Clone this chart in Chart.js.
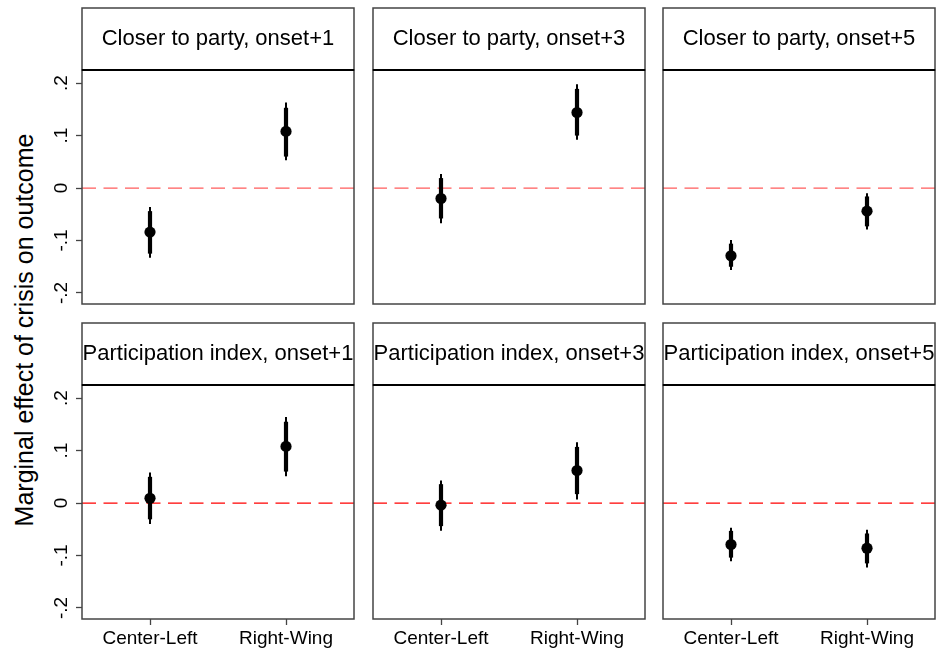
<!DOCTYPE html>
<html>
<head>
<meta charset="utf-8">
<script src="https://cdn.jsdelivr.net/npm/chart.js@4/dist/chart.umd.min.js"></script>
<style>
  html, body { margin: 0; padding: 0; background: #fff; }
  body { width: 936px; height: 654px; position: relative; overflow: hidden; font-family: "Liberation Sans", Arial, sans-serif; }
  canvas { position: absolute; }
  #ytitle {
    position: absolute; left: 24px; top: 330px;
    transform: translate(-50%, -50%) rotate(-90deg);
    white-space: nowrap; font-size: 25px; color: #000;
  }
</style>
</head>
<body>
<div id="ytitle">Marginal effect of crisis on outcome</div>
<script>
// Panel headers, left to right, top row first
const panelTitles = [
  'Closer to party, onset+1', 'Closer to party, onset+3', 'Closer to party, onset+5',
  'Participation index, onset+1', 'Participation index, onset+3', 'Participation index, onset+5'
];
const categories = ['Center-Left', 'Right-Wing'];
const categoryX = [1, 2];

// Point estimates per panel: [Center-Left, Right-Wing]
const estimates = [
  [-0.084, 0.108], [-0.020, 0.144], [-0.129, -0.044],
  [0.009, 0.108], [-0.004, 0.062], [-0.079, -0.086]
];
// Inner (thick) intervals per panel: [[lo, hi] Center-Left, [lo, hi] Right-Wing]
const innerCI = [
  [[-0.125, -0.044], [0.060, 0.153]],
  [[-0.058, 0.019], [0.100, 0.189]],
  [[-0.150, -0.106], [-0.073, -0.016]],
  [[-0.031, 0.050], [0.060, 0.155]],
  [[-0.044, 0.036], [0.017, 0.107]],
  [[-0.104, -0.053], [-0.115, -0.058]]
];
// Outer (thin) intervals per panel
const outerCI = [
  [[-0.133, -0.036], [0.053, 0.163]],
  [[-0.067, 0.027], [0.092, 0.198]],
  [[-0.156, -0.099], [-0.079, -0.010]],
  [[-0.040, 0.058], [0.051, 0.164]],
  [[-0.053, 0.043], [0.007, 0.116]],
  [[-0.111, -0.047], [-0.123, -0.051]]
];
const yTicks = [-0.2, -0.1, 0, 0.1, 0.2];
const yTickLabels = ['-.2', '-.1', '0', '.1', '.2'];
const refValue = 0;

const FONT = '"Liberation Sans", Arial, sans-serif';

// Panel frame + header box
const framePlugin = {
  id: 'frame',
  afterDraw(chart) {
    const { ctx, chartArea: a } = chart;
    const tb = chart.titleBlock;
    ctx.save();
    ctx.strokeStyle = '#444';
    ctx.lineWidth = 1.5;
    ctx.strokeRect(a.left, a.top, a.right - a.left, a.bottom - a.top);
    ctx.strokeRect(a.left, tb.top, a.right - a.left, a.top - tb.top);
    ctx.strokeStyle = '#000';
    ctx.lineWidth = 2;
    ctx.beginPath();
    ctx.moveTo(a.left, a.top);
    ctx.lineTo(a.right, a.top);
    ctx.stroke();
    ctx.restore();
  }
};

// Dashed reference line at zero
const refLinePlugin = {
  id: 'refLine',
  beforeDatasetsDraw(chart, args, opts) {
    const { ctx, chartArea: a, scales } = chart;
    const y = scales.y.getPixelForValue(refValue);
    ctx.save();
    ctx.strokeStyle = opts.color;
    ctx.lineWidth = 1.3;
    ctx.setLineDash([14, 7.5]);
    ctx.beginPath();
    ctx.moveTo(a.left, y);
    ctx.lineTo(a.right, y);
    ctx.stroke();
    ctx.restore();
  }
};

// Vertical (rotated) y tick labels
const yLabelPlugin = {
  id: 'yLabels',
  afterDraw(chart) {
    const sc = chart.scales.y;
    if (!sc.options.display) return;
    const { ctx, chartArea: a } = chart;
    ctx.save();
    ctx.font = '19px ' + FONT;
    ctx.fillStyle = '#000';
    ctx.textAlign = 'center';
    ctx.textBaseline = 'middle';
    yTicks.forEach((v, i) => {
      const py = sc.getPixelForValue(v);
      ctx.save();
      ctx.translate(a.left - 20, py);
      ctx.rotate(-Math.PI / 2);
      ctx.fillText(yTickLabels[i], 0, 0);
      ctx.restore();
    });
    ctx.restore();
  }
};

const colLeft = [40, 372, 662];
const colWidth = [315, 274, 274];
const rowTop = [7, 322];
const rowHeight = [298, 332];

panelTitles.forEach((title, p) => {
  const row = Math.floor(p / 3), col = p % 3;
  const showX = row === 1, showY = col === 0;
  const cv = document.createElement('canvas');
  cv.width = colWidth[col];
  cv.height = rowHeight[row];
  cv.style.left = colLeft[col] + 'px';
  cv.style.top = rowTop[row] + 'px';
  document.body.appendChild(cv);

  const datasets = [];
  categoryX.forEach((x, c) => {
    datasets.push({
      data: [{ x, y: outerCI[p][c][0] }, { x, y: outerCI[p][c][1] }],
      borderColor: '#000', borderWidth: 2, pointRadius: 0, borderCapStyle: 'butt'
    });
    datasets.push({
      data: [{ x, y: innerCI[p][c][0] }, { x, y: innerCI[p][c][1] }],
      borderColor: '#000', borderWidth: 4.2, pointRadius: 0, borderCapStyle: 'butt'
    });
  });
  datasets.push({
    data: categoryX.map((x, c) => ({ x, y: estimates[p][c] })),
    showLine: false, pointRadius: 5.6, pointBackgroundColor: '#000',
    pointBorderWidth: 0, borderColor: '#000'
  });

  new Chart(cv, {
    type: 'line',
    data: { datasets },
    plugins: [refLinePlugin, framePlugin, yLabelPlugin],
    options: {
      responsive: false,
      animation: false,
      events: [],
      layout: {
        autoPadding: false,
        padding: { top: 1, right: 1, left: showY ? 0 : 1, bottom: showX ? 0 : 1 }
      },
      plugins: {
        legend: { display: false },
        tooltip: { enabled: false },
        title: {
          display: true, text: title, fullSize: false, color: '#000',
          font: { family: FONT, size: 22, weight: 'normal' },
          padding: { top: 18, bottom: 17.6 }
        },
        refLine: { color: row === 0 ? '#ff5c5c' : '#ff0000' }
      },
      scales: {
        x: {
          type: 'linear', min: 0.5, max: 2.5,
          display: showX,
          afterBuildTicks: s => { s.ticks = categoryX.map(v => ({ value: v })); },
          afterFit: s => { if (showX) s.height = 35; },
          ticks: {
            callback: (v, i) => categories[i],
            font: { family: FONT, size: 19 }, color: '#000',
            padding: 2, maxRotation: 0, autoSkip: false
          },
          grid: { drawOnChartArea: false, tickLength: 6, tickColor: '#444', tickWidth: 1.3 },
          border: { display: false }
        },
        y: {
          type: 'linear', min: -0.221, max: 0.225,
          display: showY,
          afterBuildTicks: s => { s.ticks = yTicks.map(v => ({ value: v })); },
          afterFit: s => { if (showY) s.width = 42; },
          ticks: { display: false },
          grid: { drawOnChartArea: false, tickLength: 6, tickColor: '#444', tickWidth: 1.3 },
          border: { display: false }
        }
      }
    }
  });
});
</script>
</body>
</html>
